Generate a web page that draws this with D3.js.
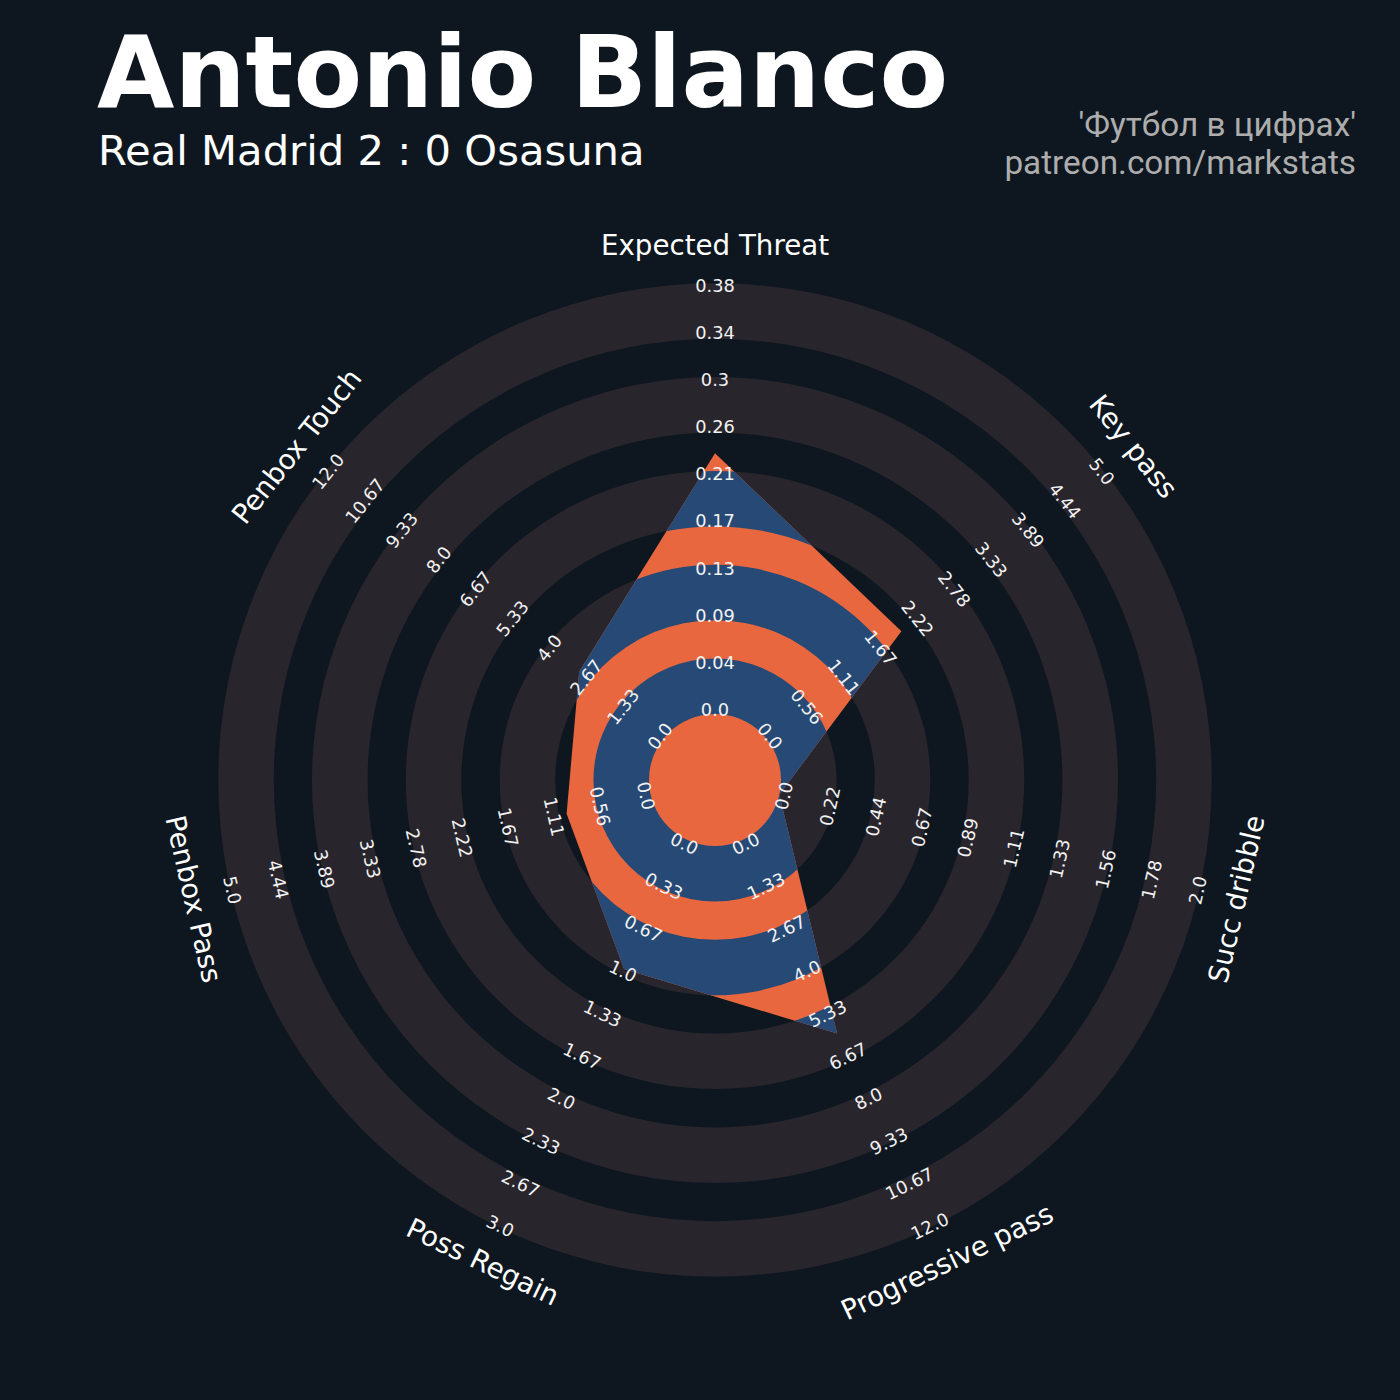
<!DOCTYPE html>
<html>
<head>
<meta charset="utf-8">
<script src="https://cdn.jsdelivr.net/npm/d3@7"></script>
<style>
  html, body { margin: 0; padding: 0; background: #0e1720; }
  svg { display: block; }
</style>
</head>
<body>
<script>
// ---------- data ----------
const params = ["Expected Threat", "Key pass", "Succ dribble", "Progressive pass", "Poss Regain", "Penbox Pass", "Penbox Touch"];
const lowRange = [0, 0, 0, 0, 0, 0, 0];
const highRange = [0.38, 5, 2, 12, 3, 5, 12];
const playerValues = [0.23, 2, 0, 6, 1, 1, 3];

const ticksExpectedThreat = ["0.0", "0.04", "0.09", "0.13", "0.17", "0.21", "0.26", "0.3", "0.34", "0.38"];
const ticksKeyPass = ["0.0", "0.56", "1.11", "1.67", "2.22", "2.78", "3.33", "3.89", "4.44", "5.0"];
const ticksSuccDribble = ["0.0", "0.22", "0.44", "0.67", "0.89", "1.11", "1.33", "1.56", "1.78", "2.0"];
const ticksProgressive = ["0.0", "1.33", "2.67", "4.0", "5.33", "6.67", "8.0", "9.33", "10.67", "12.0"];
const ticksPossRegain = ["0.0", "0.33", "0.67", "1.0", "1.33", "1.67", "2.0", "2.33", "2.67", "3.0"];
const ticksPenboxPass = ["0.0", "0.56", "1.11", "1.67", "2.22", "2.78", "3.33", "3.89", "4.44", "5.0"];
const ticksPenboxTouch = ["0.0", "1.33", "2.67", "4.0", "5.33", "6.67", "8.0", "9.33", "10.67", "12.0"];

const titleText = "Antonio Blanco";
const subtitleText = "Real Madrid 2 : 0 Osasuna";
const creditLines = ["'Футбол в цифрах'", "patreon.com/markstats"];

// ---------- layout / style ----------
const W = 1400, H = 1400;
const cx = 715, cy = 780;
const R0 = 66, R1 = 497;
const ringCount = 5, ringPeriod = 93.8, ringWidth = 55.5;
const colBg = "#0e1720", colRing = "#28252c", colOrange = "#e8673f", colBlue = "#264a75";

const tickSets = [ticksExpectedThreat, ticksKeyPass, ticksSuccDribble, ticksProgressive, ticksPossRegain, ticksPenboxPass, ticksPenboxTouch];

const svg = d3.select("body").append("svg").attr("width", W).attr("height", H);
svg.append("rect").attr("width", W).attr("height", H).attr("fill", colBg);

const n = params.length;
const angle = d3.scaleLinear().domain([0, n]).range([0, 2 * Math.PI]);
const radial = params.map((p, i) => d3.scaleLinear().domain([lowRange[i], highRange[i]]).range([R0, R1]));
const labelRadial = params.map((p, i) => d3.scaleLinear().domain([lowRange[i], highRange[i]]).range([70.5, 495]));

const g = svg.append("g").attr("transform", `translate(${cx},${cy})`);

// rings
const rings = d3.range(ringCount).map(i => ({ inner: R0 + i * ringPeriod, outer: R0 + i * ringPeriod + ringWidth }));
const arc = d3.arc().startAngle(0).endAngle(2 * Math.PI);
g.selectAll("path.ring").data(rings).join("path")
  .attr("class", "ring")
  .attr("d", d => arc({ innerRadius: d.inner, outerRadius: d.outer }))
  .attr("fill", colRing);

// clip for rings
const defs = svg.append("defs");
const clip = defs.append("clipPath").attr("id", "ringClip");
clip.selectAll("path").data(rings).join("path")
  .attr("d", d => arc({ innerRadius: d.inner, outerRadius: d.outer }));

// radar polygon
const line = d3.lineRadial().curve(d3.curveLinearClosed);
const pts = playerValues.map((v, i) => [angle(i), radial[i](v)]);
g.append("path").attr("d", line(pts)).attr("fill", colOrange);
g.append("path").attr("d", line(pts)).attr("fill", colBlue).attr("clip-path", "url(#ringClip)");

// rotation helper
function rot(i) {
  let deg = angle(i) * 180 / Math.PI;
  if (deg > 90 && deg < 270) deg -= 180;
  return deg;
}

// range labels
params.forEach((p, i) => {
  const a = angle(i);
  const ticks = tickSets[i];
  const vals = d3.range(ticks.length).map(k => lowRange[i] + (highRange[i] - lowRange[i]) * k / (ticks.length - 1));
  g.selectAll(null).data(vals).join("text")
    .attr("transform", v => {
      const r = labelRadial[i](v);
      return `translate(${r * Math.sin(a)},${-r * Math.cos(a)}) rotate(${rot(i)})`;
    })
    .attr("text-anchor", "middle")
    .attr("dominant-baseline", "central")
    .attr("font-family", "DejaVu Sans")
    .attr("font-size", 17.8)
    .attr("fill", "#f2f2f2")
    .text((v, k) => ticks[k]);
});

// param labels
g.selectAll("text.param").data(params).join("text")
  .attr("class", "param")
  .attr("transform", (p, i) => {
    const a = angle(i), r = 535;
    return `translate(${r * Math.sin(a)},${-r * Math.cos(a)}) rotate(${rot(i)})`;
  })
  .attr("text-anchor", "middle")
  .attr("dominant-baseline", "central")
  .attr("font-family", "DejaVu Sans")
  .attr("font-size", 27.7)
  .attr("fill", "#ffffff")
  .text(d => d);

// titles
svg.append("text").attr("x", 97).attr("y", 107)
  .attr("font-family", "DejaVu Sans").attr("font-weight", "bold").attr("font-size", 100)
  .attr("fill", "#ffffff").text(titleText);
svg.append("text").attr("x", 98).attr("y", 165)
  .attr("font-family", "DejaVu Sans").attr("font-size", 41.7)
  .attr("fill", "#ffffff").text(subtitleText);
svg.selectAll("text.credit").data(creditLines).join("text")
  .attr("class", "credit")
  .attr("x", 1356).attr("y", (d, i) => 136 + i * 37.6)
  .attr("text-anchor", "end")
  .attr("font-family", "Roboto").attr("font-size", 33.3)
  .attr("fill", "#adadad").text(d => d);
</script>
</body>
</html>
